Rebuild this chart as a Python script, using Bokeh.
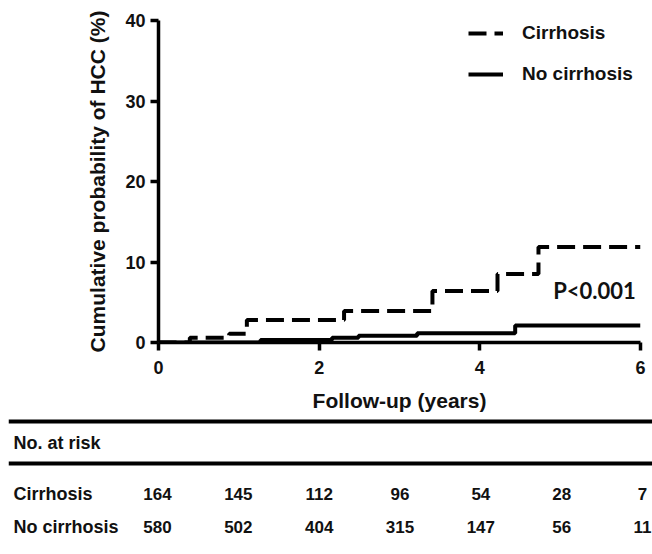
from bokeh.plotting import figure
from bokeh.models import (Range1d, FixedTicker, Legend, LegendItem, Label, Span,
                          ColumnDataSource)
from bokeh.core.properties import value
from bokeh.embed import file_html
from bokeh.resources import INLINE

# ---------------- data ----------------
cirr_time = [0, 0.39, 0.88, 1.10, 2.31, 3.41, 4.22, 4.73, 6.0]
cirr_prob = [0, 0.6, 1.1, 2.8, 3.9, 6.4, 8.5, 11.85, 11.85]
nocirr_time = [0, 1.27, 2.16, 2.49, 3.22, 4.44, 6.0]
nocirr_prob = [0, 0.3, 0.6, 0.85, 1.15, 2.1, 2.1]

x_ticks = [0, 2, 4, 6]
y_ticks = [0, 10, 20, 30, 40]

risk_years = [0, 1, 2, 3, 4, 5, 6]
risk_cirr = [164, 145, 112, 96, 54, 28, 7]
risk_nocirr = [580, 502, 404, 315, 147, 56, 11]
group_names = ["Cirrhosis", "No cirrhosis"]
p_value_text = "P<0.001"

FONT = "Liberation Sans"
INK = "#111111"

# ---------------- main KM plot ----------------
W = 652
H = 418
p = figure(width=W, height=H, x_range=Range1d(0, 6), y_range=Range1d(0, 40),
           output_backend="svg", toolbar_location=None,
           min_border_left=158, min_border_right=12, min_border_top=20,
           min_border_bottom=76)
p.outline_line_color = None
p.xgrid.visible = False
p.ygrid.visible = False

r_c = p.step(cirr_time, cirr_prob, mode="after", line_color="black",
             line_width=4, line_dash="18 8")
r_n = p.step(nocirr_time, nocirr_prob, mode="after", line_color="black",
             line_width=4)

for ax in (p.xaxis[0], p.yaxis[0]):
    ax.axis_line_width = 3.5
    ax.axis_line_color = "black"
    ax.major_tick_line_width = 3.5
    ax.major_tick_line_color = "black"
    ax.major_tick_out = 8
    ax.major_tick_in = 0
    ax.minor_tick_line_color = None
    ax.major_label_text_font = FONT
    ax.major_label_text_font_style = "bold"
    ax.major_label_text_font_size = "18px"
    ax.major_label_text_color = INK
    ax.axis_label_text_font = FONT
    ax.axis_label_text_font_style = "bold"
    ax.axis_label_text_font_size = "21px"
    ax.axis_label_text_color = INK

p.xaxis.ticker = FixedTicker(ticks=x_ticks)
p.yaxis.ticker = FixedTicker(ticks=y_ticks)
p.xaxis.axis_label = "Follow-up (years)"
p.yaxis.axis_label = "Cumulative probability of HCC (%)"
p.xaxis.major_label_standoff = 10
p.xaxis.axis_label_standoff = 12
p.yaxis.major_label_standoff = 5
p.yaxis.axis_label_standoff = 13

legend = Legend(items=[LegendItem(label=group_names[0], renderers=[r_c]),
                       LegendItem(label=group_names[1], renderers=[r_n])],
                location=(310, 257), orientation="vertical")
legend.border_line_color = None
legend.background_fill_alpha = 0
legend.padding = 0
legend.margin = 0
legend.spacing = 19
legend.glyph_width = 35
legend.glyph_height = 22
legend.label_height = 22
legend.label_standoff = 19
legend.label_text_font = FONT
legend.label_text_font_style = "bold"
legend.label_text_font_size = "19px"
legend.label_text_color = INK
p.add_layout(legend, "center")

p.add_layout(Label(x=436, y=52, x_units="screen", y_units="screen",
                   text=p_value_text, text_align="center", text_baseline="middle",
                   text_font="Lato", text_font_style="bold",
                   text_font_size="22px", text_color=INK))

# ---------------- number-at-risk table ----------------
TH = 136
TL = 8                 # table frame starts 8px from the left
FW = W - TL            # frame width
left_px = 149.0        # year 0 position inside the table frame
right_px = 634.0       # year 6 position inside the table frame
ppy = (right_px - left_px) / 6.0
t = figure(width=W, height=TH,
           x_range=Range1d(-left_px / ppy, 6 + (FW - right_px) / ppy),
           y_range=Range1d(TH, 0),
           output_backend="svg", toolbar_location=None,
           min_border_left=TL, min_border_right=0, min_border_top=0,
           min_border_bottom=0)
t.outline_line_color = None
t.axis.visible = False
t.xgrid.visible = False
t.ygrid.visible = False

for loc in (3, 45):
    t.add_layout(Span(location=loc, dimension="width", line_color="black",
                      line_width=4))

t.add_layout(Label(x=5, y=TH - 24, x_units="screen", y_units="screen",
                   text="No. at risk", text_align="left",
                   text_baseline="alphabetic", text_font=FONT,
                   text_font_style="bold", text_font_size="18px",
                   text_color=INK))

row_base = [75, 108]
for name, yb in zip(group_names, row_base):
    t.add_layout(Label(x=5, y=TH - yb, x_units="screen", y_units="screen",
                       text=name, text_align="left", text_baseline="alphabetic",
                       text_font=FONT, text_font_style="bold",
                       text_font_size="18px", text_color=INK))

src = ColumnDataSource(dict(
    x=risk_years + risk_years,
    y=[row_base[0]] * len(risk_years) + [row_base[1]] * len(risk_years),
    txt=[str(v) for v in risk_cirr] + [str(v) for v in risk_nocirr]))
t.text(x="x", y="y", text="txt", source=src, text_align="center",
       text_baseline="alphabetic", text_font=value(FONT),
       text_font_style="bold", text_font_size="17px", text_color=INK)

open("out.html", "w").write(file_html([p, t], INLINE))
